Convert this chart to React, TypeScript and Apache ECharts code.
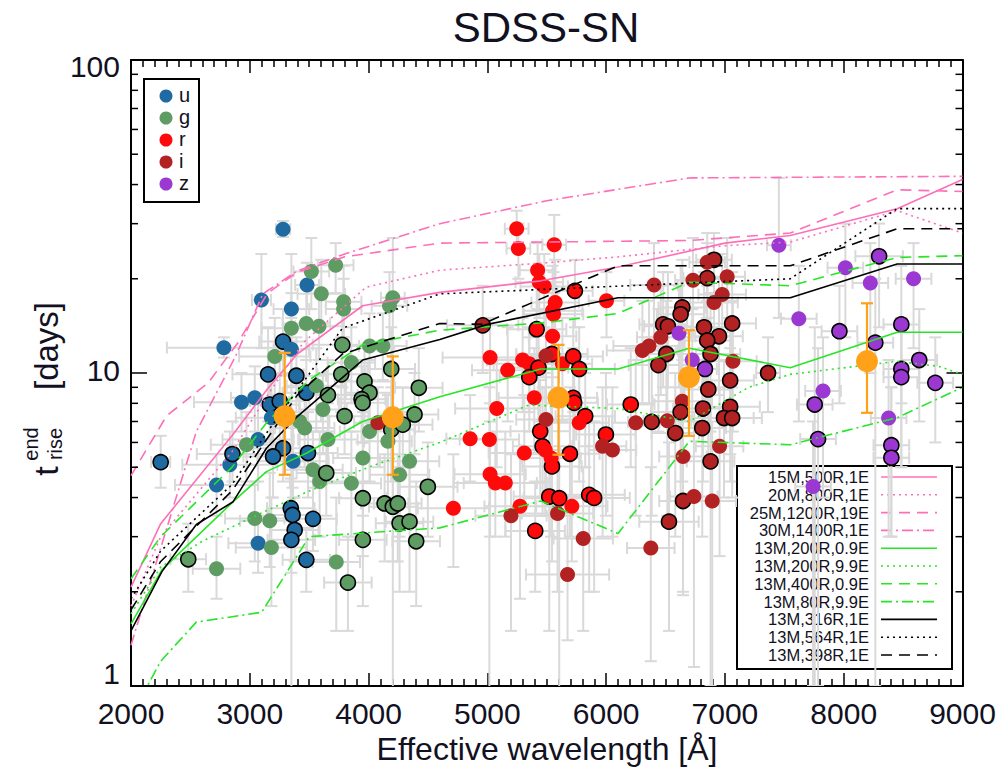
import { useEffect, useRef } from 'react';
import * as echarts from 'echarts';

const FONT = '"Liberation Sans", Arial, Helvetica, sans-serif';
const INK = '#111122';

// Axis ranges
const X_MIN = 2000;
const X_MAX = 9000;
const X_STEP = 1000;
const Y_MIN = 1;
const Y_MAX = 100;
const Y_MINOR_TICKS = [2, 3, 4, 5, 6, 7, 8, 9, 20, 30, 40, 50, 60, 70, 80, 90];

// Observed rise times: [wavelength, t_rise, x error, y low, y high, well-sampled flag]
type Obs = [number, number, number, number, number, number];

const U_BAND: Obs[] = [
  [3280, 28.8, 60, 27.2, 30.6, 0],
  [3098, 17.1, 80, 12.0, 24.0, 0],
  [3482, 19.1, 100, 16.0, 22.5, 0],
  [3350, 16.0, 150, 0.5, 24.0, 0],
  [2782, 12.05, 480, 11.2, 13.0, 0],
  [3280, 12.6, 200, 10.0, 16.0, 1],
  [3350, 11.9, 150, 9.0, 15.0, 0],
  [3154, 9.9, 300, 7.0, 14.0, 1],
  [3392, 9.8, 250, 7.5, 13.0, 1],
  [3042, 8.33, 200, 6.5, 10.5, 0],
  [2930, 8.07, 400, 6.5, 10.0, 0],
  [3168, 7.93, 250, 6.0, 10.0, 1],
  [3252, 8.13, 250, 6.0, 11.0, 1],
  [3182, 7.2, 300, 5.5, 9.5, 0],
  [3476, 8.65, 200, 6.5, 11.0, 1],
  [3364, 5.22, 300, 4.0, 7.0, 0],
  [2832, 5.09, 400, 4.0, 6.5, 0],
  [2854, 5.51, 300, 4.5, 7.0, 1],
  [3070, 6.13, 300, 4.5, 8.0, 0],
  [3280, 5.75, 250, 4.5, 7.5, 1],
  [3196, 5.41, 250, 4.0, 7.0, 1],
  [3490, 5.55, 250, 4.0, 7.5, 1],
  [2720, 4.39, 350, 3.5, 5.5, 0],
  [2250, 5.19, 80, 4.3, 6.3, 1],
  [3070, 2.86, 250, 2.3, 3.5, 0],
  [3345, 3.7, 200, 3.0, 4.6, 1],
  [3360, 3.52, 200, 2.9, 4.3, 1],
  [3378, 3.15, 200, 2.5, 4.0, 1],
  [3350, 2.93, 200, 2.3, 3.7, 1],
  [3532, 3.42, 200, 2.7, 4.3, 1],
  [3476, 2.53, 200, 2.0, 3.2, 1],
];

const G_BAND: Obs[] = [
  [3518, 21.1, 150, 16, 27, 0],
  [3723, 22.1, 150, 18, 26, 0],
  [3602, 17.9, 200, 14, 23, 0],
  [3790, 16.9, 150, 13, 22, 0],
  [3790, 16.0, 150, 13, 20, 0],
  [4204, 17.4, 100, 0.5, 27, 0],
  [4176, 16.4, 150, 12, 21, 0],
  [3476, 14.4, 200, 11, 19, 0],
  [3350, 13.9, 250, 10, 18, 0],
  [3582, 14.1, 200, 11, 18, 0],
  [3210, 11.3, 300, 8.5, 15, 0],
  [4008, 12.2, 200, 9.5, 15.5, 0],
  [4120, 12.2, 200, 9.5, 15.5, 0],
  [3779, 12.3, 250, 9, 16, 1],
  [4191, 10.3, 200, 7.5, 14, 1],
  [3770, 9.9, 200, 7.5, 13, 1],
  [3560, 9.1, 250, 6.5, 12, 0],
  [3658, 8.5, 250, 6.5, 11, 1],
  [3855, 10.8, 200, 8, 14, 0],
  [3616, 7.64, 200, 5.5, 10, 0],
  [3420, 7.0, 250, 5, 9.5, 0],
  [3462, 6.67, 250, 5, 9, 0],
  [3798, 7.28, 200, 5.5, 9.5, 1],
  [3966, 9.4, 250, 7, 12, 1],
  [4008, 8.65, 200, 6.5, 11, 1],
  [3941, 8.25, 200, 6, 11, 1],
  [3950, 8.03, 200, 6, 10.5, 1],
  [4191, 6.6, 200, 4.5, 9, 1],
  [4288, 6.84, 250, 5, 9, 1],
  [4387, 7.37, 200, 5.5, 10, 1],
  [4423, 8.97, 200, 6.5, 12, 1],
  [4008, 6.5, 250, 4.5, 9, 0],
  [4163, 6.05, 200, 4, 8.5, 0],
  [3952, 5.35, 250, 3.5, 7.5, 0],
  [4345, 5.22, 250, 3.5, 7.5, 0],
  [4261, 4.73, 250, 3, 6.5, 0],
  [4499, 4.33, 250, 3, 6, 1],
  [3855, 4.44, 250, 3, 6.5, 0],
  [3658, 6.13, 250, 4.5, 8, 0],
  [3532, 4.91, 250, 3.5, 6.5, 0],
  [3588, 4.5, 250, 3, 6.5, 0],
  [3644, 4.79, 250, 3.5, 6.5, 1],
  [2972, 5.9, 300, 4.5, 7.5, 0],
  [2482, 2.54, 150, 2.0, 3.3, 1],
  [2720, 2.37, 200, 1.9, 3.0, 0],
  [3042, 3.43, 250, 2.5, 4.5, 0],
  [3168, 3.37, 250, 2.4, 4.8, 0],
  [3182, 2.77, 300, 1.8, 4, 0],
  [3728, 2.49, 200, 1.5, 4, 0],
  [3826, 2.14, 200, 1.5, 3, 1],
  [3952, 3.98, 200, 2.6, 6, 1],
  [3952, 2.93, 200, 1.8, 4.5, 1],
  [4135, 3.83, 200, 2.5, 5.5, 1],
  [4204, 3.74, 200, 2.5, 5.5, 1],
  [4246, 3.83, 200, 2.5, 5.5, 1],
  [4261, 3.31, 200, 2, 5, 1],
  [4345, 3.35, 200, 2, 5, 1],
  [4401, 2.9, 200, 1.8, 4.5, 1],
];

const R_BAND: Obs[] = [
  [5247, 28.9, 100, 25, 33, 0],
  [5261, 25.0, 100, 20, 30, 0],
  [5563, 25.7, 100, 18, 32, 0],
  [5423, 21.3, 150, 16, 26, 0],
  [5437, 19.5, 200, 15, 24, 0],
  [5479, 18.9, 200, 14, 24, 0],
  [5571, 16.8, 200, 12, 23, 0],
  [5549, 15.8, 250, 11, 22, 0],
  [5557, 15.4, 250, 11, 21, 0],
  [6003, 17.0, 150, 13, 21, 0],
  [5737, 18.3, 150, 14, 23, 1],
  [5415, 13.8, 250, 9.5, 19, 1],
  [5549, 13.1, 200, 9, 18, 0],
  [5023, 11.2, 400, 8, 15, 0],
  [5171, 10.2, 300, 7, 14, 0],
  [5297, 11.0, 300, 7.5, 15, 0],
  [5353, 10.7, 300, 7.5, 14, 0],
  [5431, 10.4, 250, 7, 14, 1],
  [5353, 9.7, 250, 6.5, 13, 1],
  [5544, 11.5, 300, 7, 16, 1],
  [5632, 10.7, 250, 7, 15, 0],
  [5723, 11.3, 250, 7.5, 15, 1],
  [5773, 10.3, 300, 7, 14, 1],
  [5395, 8.33, 300, 5.5, 12, 0],
  [5079, 7.7, 350, 5, 11, 0],
  [5723, 8.33, 200, 5.5, 12, 1],
  [5731, 8.03, 200, 5.5, 11, 1],
  [5824, 7.28, 250, 5, 10, 1],
  [5773, 6.93, 250, 4.5, 10, 0],
  [5445, 6.51, 250, 4, 9.5, 1],
  [5465, 5.83, 250, 3.5, 9, 1],
  [5487, 5.68, 200, 3.5, 9, 0],
  [5311, 5.55, 300, 3.5, 8.5, 0],
  [4855, 6.17, 200, 4.5, 8.5, 0],
  [5017, 6.13, 250, 0.5, 9, 0],
  [5695, 5.52, 250, 3, 9, 1],
  [5544, 5.03, 250, 2.5, 8, 1],
  [5998, 6.36, 250, 3.5, 10, 1],
  [5023, 4.75, 300, 3, 7, 0],
  [5067, 4.45, 350, 3, 6.5, 0],
  [5151, 4.45, 350, 3, 6.5, 0],
  [5521, 4.03, 300, 1.5, 7, 1],
  [5605, 3.98, 300, 0.5, 7, 1],
  [5857, 4.08, 300, 2, 7, 1],
  [5899, 3.99, 300, 2, 7, 1],
  [6207, 7.93, 200, 5, 12, 1],
  [4714, 3.7, 300, 2.4, 5.5, 0],
  [5275, 3.75, 300, 1.9, 5.5, 0],
  [5711, 3.75, 300, 2.5, 5.5, 0],
  [5403, 3.13, 250, 2, 4.5, 1],
  [5537, 5.35, 250, 3, 8, 0],
];

const I_BAND: Obs[] = [
  [6908, 23.0, 150, 18, 28, 1],
  [6851, 22.6, 150, 17, 28, 0],
  [6851, 20.1, 200, 15, 26, 1],
  [6731, 19.8, 150, 13, 27, 0],
  [7019, 20.3, 150, 15, 27, 0],
  [6977, 17.8, 200, 13, 24, 0],
  [6908, 16.8, 200, 12, 24, 0],
  [6403, 19.1, 200, 13, 26, 0],
  [6641, 16.2, 200, 11, 23, 1],
  [6627, 15.4, 200, 10, 22, 1],
  [7061, 14.4, 200, 9, 21, 1],
  [6480, 14.3, 200, 9, 21, 1],
  [6520, 14.1, 200, 9, 21, 1],
  [6824, 14.0, 200, 9, 21, 1],
  [6950, 13.1, 200, 8.5, 20, 1],
  [6851, 12.7, 200, 8, 19, 1],
  [6460, 13.0, 200, 8.5, 19, 0],
  [6361, 12.2, 300, 8, 17, 0],
  [6305, 11.8, 300, 8, 17, 0],
  [6507, 11.5, 250, 7, 17, 1],
  [6879, 11.5, 250, 6.5, 18, 1],
  [6440, 10.6, 250, 6.5, 16, 1],
  [7067, 10.9, 200, 6.5, 17, 0],
  [7044, 9.47, 200, 5.5, 15, 1],
  [6860, 8.86, 200, 5, 14, 1],
  [6641, 8.13, 250, 4.5, 13, 0],
  [6815, 7.7, 250, 4.5, 12, 1],
  [7044, 7.8, 250, 4.5, 12, 1],
  [6627, 7.5, 250, 4, 12, 1],
  [6992, 7.18, 250, 4, 11, 1],
  [7061, 7.18, 250, 4, 11, 1],
  [5493, 11.35, 250, 7, 16, 0],
  [5493, 7.1, 250, 4.5, 10, 0],
  [4961, 14.2, 300, 10, 19, 1],
  [4078, 6.93, 200, 5, 9, 0],
  [5199, 3.5, 300, 1.5, 5.5, 0],
  [5591, 3.56, 300, 2, 5.5, 0],
  [5807, 2.96, 250, 1.5, 5, 0],
  [5675, 2.27, 350, 1.4, 3.5, 0],
  [5970, 5.83, 200, 3, 9, 0],
  [6053, 5.68, 200, 3, 9, 0],
  [6376, 2.76, 200, 1.2, 5, 0],
  [6529, 3.35, 250, 1.5, 6, 1],
  [6647, 3.9, 200, 1.95, 7, 1],
  [6739, 4.03, 200, 1.15, 7, 0],
  [6893, 3.9, 200, 0.5, 7, 0],
  [6647, 5.41, 200, 2, 9, 0],
  [6879, 5.22, 200, 1, 9, 1],
  [6955, 5.83, 200, 2.6, 9, 0],
  [6249, 6.93, 200, 3.5, 11, 0],
  [6384, 6.98, 200, 3.5, 11, 1],
  [6582, 6.43, 200, 3, 10, 1],
  [6515, 7.04, 200, 3.5, 11, 0],
  [6809, 6.67, 200, 3, 11, 1],
  [7363, 10.0, 100, 7.5, 13, 1],
];

const Z_BAND: Obs[] = [
  [7454, 25.6, 100, 15, 42, 0],
  [8014, 21.7, 150, 13, 30, 0],
  [8224, 19.4, 150, 10, 26, 0],
  [8588, 20.0, 150, 12, 26, 0],
  [8298, 23.6, 200, 14, 30, 1],
  [7622, 14.9, 150, 7, 22, 0],
  [7964, 13.6, 150, 8, 19, 1],
  [8485, 14.3, 150, 8, 22, 1],
  [8266, 12.5, 150, 1, 20, 1],
  [8636, 11.0, 150, 7, 16, 1],
  [8771, 9.3, 150, 6, 13, 1],
  [8485, 10.3, 150, 5, 15, 1],
  [8485, 9.7, 150, 5, 15, 1],
  [7826, 8.76, 150, 4, 13, 0],
  [7756, 7.93, 150, 1, 14, 1],
  [8378, 7.18, 150, 3, 11, 0],
  [7784, 6.15, 150, 1, 12, 1],
  [8401, 5.88, 150, 3, 9, 1],
  [8401, 5.36, 150, 3, 9, 1],
  [7742, 4.34, 150, 1, 7, 0],
  [6613, 13.4, 100, 9, 19, 0],
  [6725, 11.0, 100, 7, 16, 0],
  [6832, 10.3, 100, 7, 14, 1],
];

// Band means: [wavelength, t_rise, low, high]
const BAND_MEANS: [number, number, number, number][] = [
  [3294, 7.28, 4.73, 11.6],
  [4204, 7.22, 4.73, 11.3],
  [5599, 8.33, 5.48, 12.3],
  [6697, 9.7, 6.3, 13.7],
  [8196, 10.9, 7.46, 16.7],
];

// Model rise-time curves: [wavelength, t_rise]
const M15_500R_1E = [[2000, 2.07], [2250, 3.3], [2850, 6.3], [3150, 8.9], [3400, 11.5], [3950, 16.4], [4600, 18.1], [5450, 19.7], [6100, 21.8], [7000, 26], [7550, 27.5], [8450, 33.5], [9000, 41.5]];
const M20_800R_1E = [[2000, 1.8], [2250, 3.0], [2850, 5.6], [3150, 8.5], [3450, 12.5], [3980, 18.8], [4600, 21.3], [5500, 22.5], [6100, 23.5], [7000, 25.5], [7550, 26.2], [8450, 33], [9000, 28]];
const M25_1200R_19E = [[2000, 4.7], [2300, 7.3], [2650, 9.3], [2900, 12.5], [3150, 18], [3400, 21], [3800, 23.5], [4600, 26], [6700, 26.5], [7550, 28], [8450, 38.5], [9000, 38]];
const M30_1400R_1E = [[2000, 1.35], [2550, 6.5], [2880, 11.3], [3110, 17.9], [3400, 21.2], [3800, 24], [4600, 30], [5500, 35.5], [6700, 42], [9000, 42.5]];
const M13_200R_09E = [[2000, 1.58], [2260, 2.35], [2860, 3.88], [3140, 4.84], [3480, 5.55], [3950, 7.0], [4600, 8.4], [5450, 10.3], [6100, 10.3], [6700, 12.0], [7550, 10.4], [8450, 13.5], [9000, 13.5]];
const M13_200R_99E = [[2000, 1.7], [2250, 2.4], [2600, 2.9], [3050, 3.5], [3500, 4.2], [4000, 5.0], [4600, 6.0], [5350, 7.9], [6100, 7.7], [6700, 7.0], [7200, 9.0], [7550, 9.9], [8450, 10.9], [8800, 10.5], [9000, 9.9]];
const M13_400R_09E = [[2000, 2.2], [2250, 3.0], [2850, 5.0], [3150, 7.0], [3500, 9.5], [3950, 12.3], [4600, 13.7], [5500, 14.5], [6100, 15.5], [6700, 19.5], [7550, 19], [8450, 23.4], [9000, 23.7]];
const M13_80R_99E = [[2000, 0.8], [2250, 1.2], [2550, 1.6], [3100, 1.72], [3500, 3.0], [4600, 3.2], [5450, 3.9], [6100, 3.07], [6700, 6.05], [7550, 5.9], [8450, 7.2], [9000, 9.0]];
const M13_316R_1E = [[2000, 1.5], [2260, 2.32], [2550, 3.28], [2860, 3.88], [3140, 5.75], [3390, 7.2], [3950, 11.0], [4600, 12.8], [5000, 14.3], [6100, 17.4], [7550, 17.4], [8450, 22.3], [9000, 22.3]];
const M13_564R_1E = [[2000, 1.9], [2250, 2.7], [2850, 4.4], [3150, 6.5], [3400, 8.8], [3780, 13.9], [4600, 17.9], [7550, 20], [8450, 33.5], [9000, 33.5]];
const M13_398R_1E = [[2000, 1.75], [2250, 2.5], [2850, 4.2], [3150, 6.2], [3400, 8.5], [3780, 11.5], [4600, 14.4], [4950, 14.3], [6100, 22], [7550, 22], [8450, 28.9], [9000, 28.9]];

const PINK = '#ff6fb8';
const GREEN = '#26e626';
const BLACK = '#000000';
const SOLID: number[] = [];
const DOTTED = [2, 4];
const DASHED = [11, 7];
const DASHDOT = [11, 4, 2, 4];

const MODELS = [
  { name: '15M,500R,1E', color: PINK, dash: SOLID, data: M15_500R_1E },
  { name: '20M,800R,1E', color: PINK, dash: DOTTED, data: M20_800R_1E },
  { name: '25M,1200R,19E', color: PINK, dash: DASHED, data: M25_1200R_19E },
  { name: '30M,1400R,1E', color: PINK, dash: DASHDOT, data: M30_1400R_1E },
  { name: '13M,200R,0.9E', color: GREEN, dash: SOLID, data: M13_200R_09E },
  { name: '13M,200R,9.9E', color: GREEN, dash: DOTTED, data: M13_200R_99E },
  { name: '13M,400R,0.9E', color: GREEN, dash: DASHED, data: M13_400R_09E },
  { name: '13M,80R,9.9E', color: GREEN, dash: DASHDOT, data: M13_80R_99E },
  { name: '13M,316R,1E', color: BLACK, dash: SOLID, data: M13_316R_1E },
  { name: '13M,564R,1E', color: BLACK, dash: DOTTED, data: M13_564R_1E },
  { name: '13M,398R,1E', color: BLACK, dash: DASHED, data: M13_398R_1E },
];

const BANDS = [
  { name: 'u', color: '#1f6aa0', pts: U_BAND },
  { name: 'g', color: '#5f9c64', pts: G_BAND },
  { name: 'r', color: '#ff0a0a', pts: R_BAND },
  { name: 'i', color: '#b22222', pts: I_BAND },
  { name: 'z', color: '#9b38d2', pts: Z_BAND },
];

const ERR_GRAY = '#d9d9d9';
const MEAN_ORANGE = '#ffa21a';

// Draws cross-shaped error bars with end caps for rows [x, y, xErr, yLow, yHigh]
function errorBarRenderer(color: string, width: number, cap: number) {
  return (_params: any, api: any) => {
    const x = api.value(0);
    const y = api.value(1);
    const xe = api.value(2);
    const lo = api.value(3);
    const hi = api.value(4);
    const c = api.coord([x, y]);
    const b = api.coord([x, lo]);
    const t = api.coord([x, hi]);
    const style = { stroke: color, lineWidth: width };
    const children: any[] = [
      { type: 'line', shape: { x1: c[0], y1: b[1], x2: c[0], y2: t[1] }, style },
      { type: 'line', shape: { x1: c[0] - cap, y1: b[1], x2: c[0] + cap, y2: b[1] }, style },
      { type: 'line', shape: { x1: c[0] - cap, y1: t[1], x2: c[0] + cap, y2: t[1] }, style },
    ];
    if (xe > 0) {
      const l = api.coord([x - xe, y]);
      const r = api.coord([x + xe, y]);
      children.push(
        { type: 'line', shape: { x1: l[0], y1: c[1], x2: r[0], y2: c[1] }, style },
        { type: 'line', shape: { x1: l[0], y1: c[1] - cap, x2: l[0], y2: c[1] + cap }, style },
        { type: 'line', shape: { x1: r[0], y1: c[1] - cap, x2: r[0], y2: c[1] + cap }, style },
      );
    }
    return { type: 'group', children };
  };
}

function buildOption() {
  const allObs = BANDS.flatMap((b) => b.pts);

  const axisLine = { show: true, onZero: false, lineStyle: { color: '#000', width: 2 } };
  const tickStyle = { color: '#000', width: 1.5 };
  const labelFont = { color: INK, fontSize: 30, fontFamily: FONT };

  const xBase = {
    type: 'value' as const,
    min: X_MIN,
    max: X_MAX,
    interval: X_STEP,
    axisLine,
    axisTick: { show: true, inside: true, length: 13, lineStyle: tickStyle },
    minorTick: { show: true, splitNumber: 10, length: 7, lineStyle: tickStyle },
    splitLine: { show: false },
    minorSplitLine: { show: false },
  };
  const yBase = {
    type: 'log' as const,
    logBase: 10,
    min: Y_MIN,
    max: Y_MAX,
    axisLine,
    axisTick: { show: true, inside: true, length: 16, lineStyle: tickStyle },
    splitLine: { show: false },
  };

  const series: any[] = [
    {
      type: 'custom',
      name: 'errors',
      silent: true,
      clip: true,
      z: 1,
      dimensions: ['x', 'y', 'xe', 'lo', 'hi'],
      encode: { x: 0, y: 1 },
      data: allObs.map((p) => [p[0], p[1], p[2], p[3], p[4]]),
      renderItem: errorBarRenderer(ERR_GRAY, 2, 6),
    },
    ...BANDS.map((b) => ({
      type: 'scatter',
      name: b.name,
      silent: true,
      z: 2,
      symbol: 'circle',
      symbolSize: 15,
      itemStyle: { color: b.color, opacity: 1 },
      data: b.pts.map((p) => ({
        value: [p[0], p[1]],
        itemStyle: p[5] ? { borderColor: '#000', borderWidth: 1.6 } : { borderWidth: 0 },
      })),
    })),
    ...MODELS.map((m) => ({
      type: 'line',
      name: m.name,
      silent: true,
      z: 3,
      clip: true,
      symbol: 'none',
      showSymbol: false,
      lineStyle: { color: m.color, width: 1.6, type: m.dash.length ? m.dash : 'solid' },
      data: m.data,
    })),
    {
      type: 'custom',
      name: 'mean errors',
      silent: true,
      clip: true,
      z: 4,
      encode: { x: 0, y: 1 },
      data: BAND_MEANS.map((m) => [m[0], m[1], 0, m[2], m[3]]),
      renderItem: errorBarRenderer(MEAN_ORANGE, 2.2, 6),
    },
    {
      type: 'scatter',
      name: 'means',
      silent: true,
      z: 5,
      symbol: 'circle',
      symbolSize: 22,
      itemStyle: { color: MEAN_ORANGE, opacity: 1 },
      data: BAND_MEANS.map((m) => [m[0], m[1]]),
    },
    {
      // minor ticks of the logarithmic axis on both sides of the frame
      type: 'custom',
      name: 'log minor ticks',
      silent: true,
      z: 6,
      encode: { x: 0, y: 1 },
      data: Y_MINOR_TICKS.map((v) => [X_MIN, v]),
      renderItem: (params: any, api: any) => {
        const p = api.coord([api.value(0), api.value(1)]);
        const cs = params.coordSys;
        const style = { stroke: '#000', lineWidth: 1.5 };
        return {
          type: 'group',
          children: [
            { type: 'line', shape: { x1: cs.x, y1: p[1], x2: cs.x + 7, y2: p[1] }, style },
            { type: 'line', shape: { x1: cs.x + cs.width - 7, y1: p[1], x2: cs.x + cs.width, y2: p[1] }, style },
          ],
        };
      },
    },
  ];

  // Band legend (top left)
  const bandLegend: any[] = [
    { type: 'rect', shape: { x: 144, y: 79, width: 55, height: 123 }, style: { fill: 'none', stroke: '#000', lineWidth: 2 } },
  ];
  BANDS.forEach((b, k) => {
    const cy = 96 + k * 22;
    bandLegend.push(
      { type: 'circle', shape: { cx: 166, cy, r: 6.5 }, style: { fill: b.color } },
      { type: 'text', x: 179, y: cy - 1, style: { text: b.name, fontSize: 20, fontFamily: FONT, fill: INK, align: 'left', verticalAlign: 'middle' } },
    );
  });

  // Model legend (bottom right)
  const modelLegend: any[] = [
    { type: 'rect', shape: { x: 737, y: 466, width: 215, height: 203 }, style: { fill: 'none', stroke: '#000', lineWidth: 2 } },
  ];
  MODELS.forEach((m, k) => {
    const cy = 477 + k * 17.8;
    modelLegend.push(
      { type: 'text', x: 869, y: cy, style: { text: m.name, fontSize: 16.5, fontFamily: FONT, fill: INK, align: 'right', verticalAlign: 'middle' } },
      { type: 'line', shape: { x1: 881, y1: cy, x2: 937, y2: cy }, style: { stroke: m.color, lineWidth: 1.6, lineDash: m.dash.length ? m.dash : null } },
    );
  });

  const graphic: any[] = [
    { type: 'text', x: 546, y: 27, z: 10, style: { text: 'SDSS-SN', fontSize: 42, fontFamily: FONT, fill: INK, align: 'center', verticalAlign: 'middle' } },
    { type: 'text', x: 547, y: 749, z: 10, style: { text: 'Effective wavelength [Å]', fontSize: 32, fontFamily: FONT, fill: INK, align: 'center', verticalAlign: 'middle' } },
    {
      // rotated axis title: t with sub/superscript, then the unit
      type: 'group',
      x: 46,
      y: 476,
      rotation: Math.PI / 2,
      z: 10,
      children: [
        { type: 'text', x: 5, y: 0, style: { text: 't', fontSize: 34, fontFamily: FONT, fill: INK, align: 'center', verticalAlign: 'middle' } },
        { type: 'text', x: 32, y: -15, style: { text: 'end', fontSize: 20, fontFamily: FONT, fill: INK, align: 'center', verticalAlign: 'middle' } },
        { type: 'text', x: 32, y: 9, style: { text: 'rise', fontSize: 20, fontFamily: FONT, fill: INK, align: 'center', verticalAlign: 'middle' } },
        { type: 'text', x: 130, y: 0, style: { text: '[days]', fontSize: 33, fontFamily: FONT, fill: INK, align: 'center', verticalAlign: 'middle' } },
      ],
    },
    { type: 'group', z: 10, children: bandLegend },
    { type: 'group', z: 10, children: modelLegend },
  ];

  return {
    animation: false,
    backgroundColor: '#ffffff',
    grid: { left: 131, right: 41.5, top: 60, bottom: 84, containLabel: false },
    xAxis: [
      {
        ...xBase,
        position: 'bottom',
        axisLabel: { ...labelFont, margin: 12, formatter: (v: number) => String(v) },
      },
      { ...xBase, position: 'top', axisLabel: { show: false } },
    ],
    yAxis: [
      {
        ...yBase,
        position: 'left',
        axisLabel: {
          ...labelFont,
          margin: 11,
          formatter: (v: number) => (v <= 1 ? `{lo|${v}}` : v >= 100 ? `{hi|${v}}` : `{mid|${v}}`),
          rich: {
            lo: { ...labelFont, padding: [0, 0, 26, 0] },
            mid: { ...labelFont, padding: [0, 0, 6, 0] },
            hi: { ...labelFont, padding: [12, 0, 0, 0] },
          },
        },
      },
      { ...yBase, position: 'right', axisLabel: { show: false } },
    ],
    series,
    graphic,
  };
}

export default function App() {
  const ref = useRef<HTMLDivElement>(null);
  useEffect(() => {
    if (!ref.current) return;
    const chart = echarts.init(ref.current, null, { renderer: 'svg' });
    chart.setOption(buildOption() as any);
    return () => chart.dispose();
  }, []);
  return (
    <div
      ref={ref}
      style={{ position: 'fixed', left: 0, top: 0, width: 1004, height: 770, background: '#fff' }}
    />
  );
}
